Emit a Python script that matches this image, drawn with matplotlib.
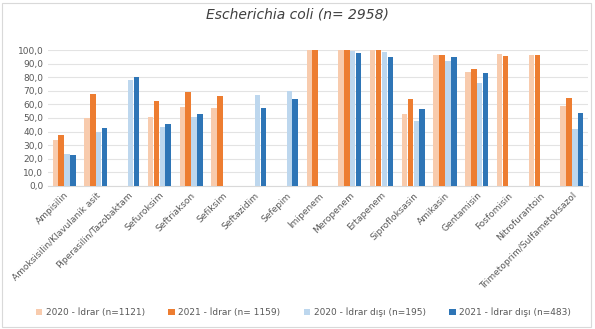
import matplotlib.pyplot as plt
import matplotlib.ticker as mtick
import numpy as np
from matplotlib.patches import FancyBboxPatch

nan = np.nan
antibiotics = ['Ampisilin', 'Amoksisilin/Klavulanik asit', 'Piperasilin/Tazobaktam',
               'Sefuroksim', 'Seftriakson', 'Sefiksim', 'Seftazidim', 'Sefepim',
               'İmipenem', 'Meropenem', 'Ertapenem', 'Siprofloksasin', 'Amikasin',
               'Gentamisin', 'Fosfomisin', 'Nitrofurantoin', 'Trimetoprim/Sulfametoksazol']
urine_2020 = [33.5, 50.0, nan, 50.7, 58.3, 57.3, nan, nan, 100.0, 100.0, 100.0,
              52.9, 96.0, 83.7, 97.0, 96.0, 59.0]
urine_2021 = [37.6, 67.8, nan, 62.2, 69.0, 65.9, nan, nan, 100.0, 100.0, 100.0,
              64.1, 96.0, 85.9, 95.9, 96.0, 65.0]
nonurine_2020 = [23.2, 39.5, 78.0, 43.4, 50.7, nan, 66.8, 70.0, nan, 99.0, 98.5,
                 47.6, 92.0, 75.6, nan, nan, 41.5]
nonurine_2021 = [22.4, 42.7, 80.0, 45.9, 52.9, nan, 57.0, 63.7, nan, 97.6, 95.0,
                 56.8, 95.0, 82.9, nan, nan, 54.0]

series = [
    ('2020 - İdrar (n=1121)', urine_2020, '#F8CBAD'),
    ('2021 - İdrar (n= 1159)', urine_2021, '#ED7D31'),
    ('2020 - İdrar dışı (n=195)', nonurine_2020, '#BDD7EE'),
    ('2021 - İdrar dışı (n=483)', nonurine_2021, '#2E75B6'),
]

plt.rcParams['font.family'] = ['DejaVu Sans']
fig = plt.figure(figsize=(5.95, 3.29), dpi=100)
ax = fig.add_axes([0.081, 0.435, 0.907, 0.413])

x = np.arange(len(antibiotics))
width = 0.17
for i, (name, vals, color) in enumerate(series):
    ax.bar(x + (i - 1.5) * 0.185, vals, width, color=color, label=name, zorder=3)

ax.set_ylim(0, 100)
ax.set_xlim(-0.5, len(antibiotics) - 0.5)
ax.set_yticks(np.arange(0, 101, 10))
ax.yaxis.set_major_formatter(mtick.FuncFormatter(lambda v, p: f'{v:.1f}'.replace('.', ',')))
ax.grid(axis='y', color='#E3E3E3', linewidth=0.8, zorder=0)
for side in ['top', 'right', 'left']:
    ax.spines[side].set_visible(False)
ax.spines['bottom'].set_color('#D9D9D9')
ax.tick_params(axis='both', length=0, labelsize=6.5, colors='#595959')
ax.set_xticks(x)
ax.set_xticklabels(antibiotics, rotation=45, ha='right', rotation_mode='anchor')

fig.text(0.5, 0.955, 'Escherichia coli (n= 2958)', ha='center', va='center',
         fontsize=10, style='italic', color='#404040')

fig.legend(loc='center', bbox_to_anchor=(0.51, 0.05), ncol=4, frameon=False,
           fontsize=6.5, handlelength=0.7, handleheight=0.7, columnspacing=2.6,
           handletextpad=0.4, labelcolor='#595959')

fig.patches.append(FancyBboxPatch((0.004, 0.006), 0.99, 0.985, boxstyle='square,pad=0',
                                  transform=fig.transFigure, fill=False,
                                  edgecolor='#D9D9D9', linewidth=0.8))

plt.savefig('out.png', dpi=100)
